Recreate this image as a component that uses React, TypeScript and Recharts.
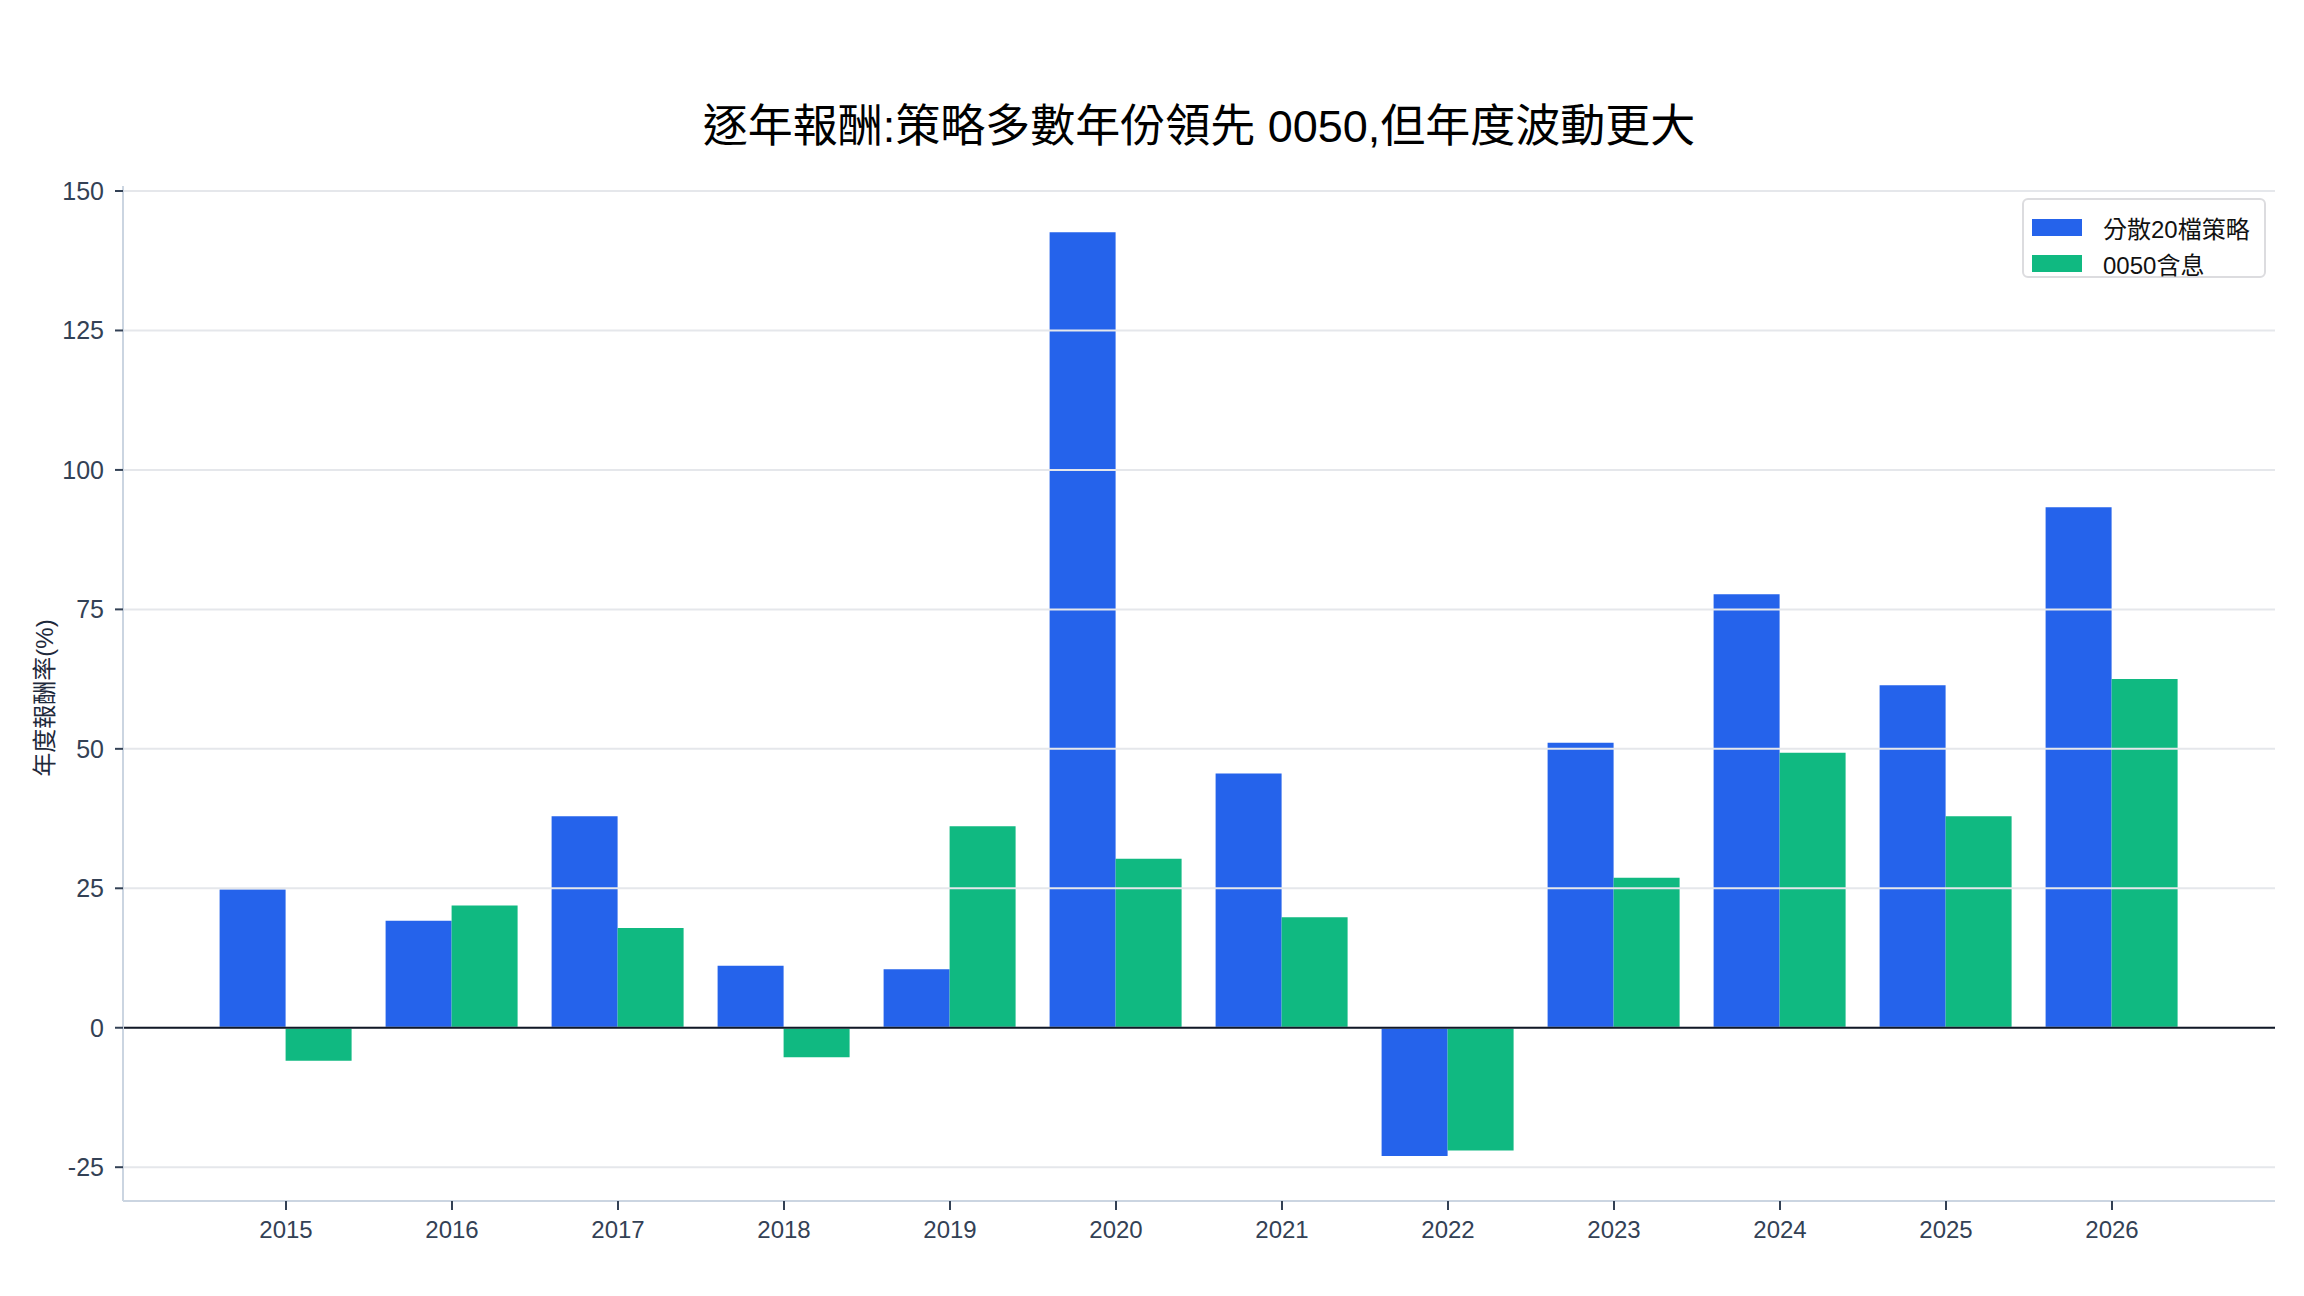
import React from "react";
import {
  Bar,
  BarChart,
  ReferenceLine,
  XAxis,
  YAxis,
} from "recharts";

const years = ["2015", "2016", "2017", "2018", "2019", "2020", "2021", "2022", "2023", "2024", "2025", "2026"];
const strategyReturns = [24.8, 19.2, 37.9, 11.1, 10.5, 142.6, 45.6, -23.0, 51.1, 77.7, 61.4, 93.3];
const etfReturns = [-5.9, 21.9, 17.9, -5.3, 36.1, 30.3, 19.8, -22.0, 26.9, 49.3, 37.9, 62.5];
const yTicks = [-25, 0, 25, 50, 75, 100, 125, 150];

const series = [
  { key: "strategy", name: "分散20檔策略", color: "#2563eb" },
  { key: "etf", name: "0050含息", color: "#10b981" },
];

const data = years.map((year, i) => ({
  year,
  strategy: strategyReturns[i],
  etf: etfReturns[i],
}));

const FONT = '"Liberation Sans", "Noto Sans CJK TC", sans-serif';
const TICK_COLOR = "#334155";
const SPINE = "#cbd5e1";

const LegendBox = () => (
  <div
    style={{
      position: "absolute",
      left: 2022,
      top: 198,
      width: 244,
      height: 80,
      border: "2px solid #dcdcdf",
      borderRadius: 6,
      background: "rgba(255,255,255,0.9)",
      boxSizing: "border-box",
      paddingTop: 9,
    }}
  >
    {series.map((s) => (
      <div key={s.key} style={{ display: "flex", alignItems: "center", height: 36 }}>
        <span
          style={{
            display: "inline-block",
            width: 50,
            height: 17,
            marginLeft: 8,
            background: s.color,
          }}
        />
        <span style={{ marginLeft: 21, fontSize: 24, fontFamily: FONT, color: "#111" }}>
          {s.name}
        </span>
      </div>
    ))}
  </div>
);

const App: React.FC = () => {
  return (
    <div style={{ position: "relative", width: 2304, height: 1296, background: "#fff" }}>
      <style>{"body{margin:0}"}</style>
      <div
        style={{
          position: "absolute",
          left: 1199,
          top: 122,
          transform: "translate(-50%, -50%)",
          whiteSpace: "nowrap",
          fontFamily: FONT,
          fontSize: 45,
          color: "#000",
        }}
      >
        逐年報酬:策略多數年份領先 0050,但年度波動更大
      </div>
      <div
        style={{
          position: "absolute",
          left: 42,
          top: 698,
          transform: "translate(-50%, -50%) rotate(-90deg)",
          whiteSpace: "nowrap",
          fontFamily: FONT,
          fontSize: 24,
          color: "#1e293b",
        }}
      >
        年度報酬率(%)
      </div>
      <BarChart
        width={2304}
        height={1296}
        data={data}
        margin={{ top: 186, right: 29, bottom: 0, left: 0 }}
        barCategoryGap="10%"
        barGap={0}
      >
        <XAxis
          dataKey="year"
          padding={{ left: 80, right: 80 }}
          height={95}
          tick={{ fill: TICK_COLOR, fontSize: 24, fontFamily: FONT }}
          tickSize={9}
          tickMargin={11}
          tickLine={{ stroke: TICK_COLOR, strokeWidth: 2 }}
          axisLine={{ stroke: SPINE, strokeWidth: 2 }}
        />
        <XAxis
          xAxisId="top"
          dataKey="year"
          orientation="top"
          height={0}
          tick={false}
          tickLine={false}
          axisLine={{ stroke: SPINE, strokeWidth: 2 }}
        />
        <YAxis
          width={123}
          domain={[-31.06, 150.9]}
          ticks={yTicks}
          allowDataOverflow
          interval={0}
          tick={{ fill: TICK_COLOR, fontSize: 25, fontFamily: FONT }}
          tickSize={8}
          tickMargin={11}
          tickLine={{ stroke: TICK_COLOR, strokeWidth: 2 }}
          axisLine={{ stroke: SPINE, strokeWidth: 2 }}
        />
        <YAxis
          yAxisId="right"
          orientation="right"
          width={0}
          tick={false}
          tickLine={false}
          axisLine={{ stroke: SPINE, strokeWidth: 2 }}
        />
        {series.map((s) => (
          <Bar key={s.key} dataKey={s.key} name={s.name} fill={s.color} isAnimationActive={false} />
        ))}
        {yTicks.map((t) => (
          <ReferenceLine key={t} y={t} stroke="#e5e7eb" strokeWidth={2} />
        ))}
        <ReferenceLine y={0} stroke="#111827" strokeWidth={2} />
      </BarChart>
      <LegendBox />
    </div>
  );
};

export default App;
